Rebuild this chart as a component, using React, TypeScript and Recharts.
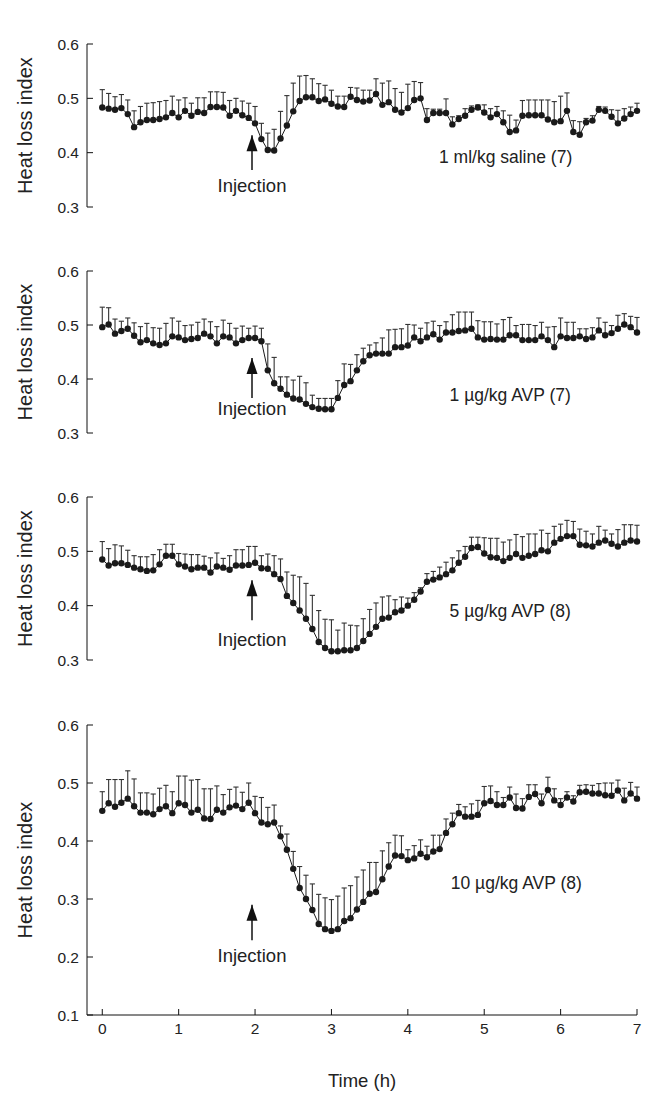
import {
  ComposedChart,
  Line,
  ErrorBar,
  XAxis,
  YAxis,
  ReferenceLine,
  ReferenceDot,
} from "recharts";

const FONT = '"Liberation Sans", Arial, Helvetica, sans-serif';

// heat loss index, mean and upper SEM, one value every 5 min from 0 to 7 h
const salineMean = [
  0.483, 0.481, 0.479, 0.482, 0.471, 0.447, 0.456, 0.46, 0.46, 0.462,
  0.465, 0.473, 0.465, 0.477, 0.468, 0.475, 0.473, 0.484, 0.484, 0.483,
  0.468, 0.477, 0.469, 0.464, 0.454, 0.425, 0.405, 0.404, 0.426, 0.45,
  0.476, 0.495, 0.502, 0.502, 0.495, 0.498, 0.49, 0.485, 0.484, 0.503,
  0.497, 0.494, 0.496, 0.508, 0.488, 0.493, 0.479, 0.474, 0.482, 0.497,
  0.5, 0.46, 0.473, 0.473, 0.473, 0.452, 0.462, 0.468, 0.479, 0.483,
  0.474, 0.465, 0.471, 0.456, 0.438, 0.441, 0.468, 0.469, 0.469, 0.469,
  0.461, 0.456, 0.458, 0.477, 0.438, 0.433, 0.456, 0.459, 0.479, 0.477,
  0.466, 0.454, 0.463, 0.471, 0.477,
];
const salineSem = [
  0.033, 0.028, 0.024, 0.025, 0.026, 0.03, 0.029, 0.031, 0.032, 0.032,
  0.031, 0.031, 0.032, 0.024, 0.023, 0.026, 0.028, 0.028, 0.028, 0.028,
  0.028, 0.023, 0.026, 0.027, 0.031, 0.029, 0.031, 0.039, 0.05, 0.055,
  0.052, 0.046, 0.04, 0.034, 0.032, 0.026, 0.025, 0.019, 0.02, 0.017,
  0.022, 0.021, 0.019, 0.028, 0.04, 0.039, 0.039, 0.037, 0.044, 0.034,
  0.029, 0.021, 0.007, 0.007, 0.026, 0.014, 0.006, 0.013, 0.007, 0.005,
  0.014, 0.016, 0.014, 0.021, 0.031, 0.019, 0.028, 0.028, 0.028, 0.028,
  0.036, 0.038, 0.046, 0.033, 0.021, 0.024, 0.007, 0.009, 0.006, 0.007,
  0.013, 0.024, 0.018, 0.013, 0.014,
];

const avp1Mean = [
  0.496, 0.501, 0.484, 0.489, 0.493, 0.48, 0.468, 0.472, 0.466, 0.463,
  0.466, 0.479, 0.477, 0.472, 0.474, 0.476, 0.484, 0.479, 0.466, 0.479,
  0.477, 0.466, 0.472, 0.476, 0.476, 0.47, 0.416, 0.392, 0.382, 0.371,
  0.364, 0.362, 0.354, 0.348, 0.345, 0.344, 0.344, 0.365, 0.389, 0.396,
  0.416, 0.433, 0.444, 0.447, 0.447, 0.447, 0.459, 0.459, 0.462, 0.477,
  0.47, 0.477, 0.483, 0.473, 0.486, 0.486, 0.489, 0.49, 0.493, 0.477,
  0.473, 0.474, 0.473, 0.473, 0.481, 0.481, 0.472, 0.472, 0.472, 0.479,
  0.472, 0.459, 0.479, 0.476, 0.476, 0.479, 0.474, 0.477, 0.49, 0.481,
  0.485, 0.493, 0.501, 0.496, 0.486,
];
const avp1Sem = [
  0.037, 0.031, 0.027, 0.018, 0.02, 0.024, 0.029, 0.031, 0.029, 0.031,
  0.037, 0.034, 0.03, 0.027, 0.026, 0.029, 0.027, 0.027, 0.031, 0.03,
  0.026, 0.028, 0.026, 0.018, 0.022, 0.024, 0.049, 0.048, 0.022, 0.033,
  0.034, 0.043, 0.039, 0.022, 0.019, 0.02, 0.02, 0.032, 0.039, 0.031,
  0.029, 0.024, 0.019, 0.02, 0.029, 0.044, 0.033, 0.034, 0.039, 0.023,
  0.024, 0.027, 0.024, 0.026, 0.02, 0.033, 0.035, 0.034, 0.031, 0.031,
  0.033, 0.032, 0.029, 0.037, 0.033, 0.018, 0.029, 0.029, 0.027, 0.026,
  0.024, 0.038, 0.034, 0.029, 0.029, 0.014, 0.019, 0.018, 0.023, 0.024,
  0.014, 0.025, 0.02, 0.02, 0.028,
];

const avp5Mean = [
  0.485, 0.474, 0.478, 0.478, 0.475, 0.47, 0.467, 0.464, 0.465, 0.476,
  0.492, 0.492, 0.476, 0.472, 0.467, 0.47, 0.47, 0.461, 0.472, 0.47,
  0.466, 0.474, 0.474, 0.475, 0.479, 0.469, 0.468, 0.458, 0.449, 0.418,
  0.405, 0.391, 0.376, 0.357, 0.333, 0.322, 0.316, 0.316, 0.318, 0.318,
  0.322, 0.335, 0.348, 0.361, 0.376, 0.378, 0.388, 0.391, 0.4, 0.411,
  0.426, 0.444, 0.448, 0.452, 0.458, 0.465, 0.479, 0.49, 0.506, 0.508,
  0.496, 0.489, 0.488, 0.482, 0.488, 0.495, 0.488, 0.492, 0.495, 0.502,
  0.5, 0.516, 0.523, 0.528, 0.528, 0.512, 0.511, 0.509, 0.516, 0.52,
  0.514, 0.509, 0.516, 0.52, 0.518,
];
const avp5Sem = [
  0.033, 0.031, 0.034, 0.032, 0.027, 0.022, 0.023, 0.026, 0.029, 0.027,
  0.021, 0.021, 0.02, 0.023, 0.027, 0.024, 0.021, 0.027, 0.025, 0.017,
  0.026, 0.029, 0.029, 0.034, 0.03, 0.023, 0.027, 0.034, 0.037, 0.044,
  0.051, 0.062, 0.065, 0.062, 0.058, 0.053, 0.058, 0.039, 0.05, 0.046,
  0.041, 0.041, 0.045, 0.044, 0.04, 0.04, 0.023, 0.025, 0.014, 0.013,
  0.007, 0.015, 0.015, 0.019, 0.022, 0.023, 0.022, 0.019, 0.02, 0.018,
  0.029, 0.035, 0.036, 0.035, 0.033, 0.036, 0.039, 0.04, 0.037, 0.037,
  0.033, 0.03, 0.027, 0.029, 0.027, 0.029, 0.026, 0.023, 0.03, 0.019,
  0.018, 0.031, 0.033, 0.029, 0.03,
];

const avp10Mean = [
  0.452, 0.465, 0.459, 0.466, 0.473, 0.46, 0.449, 0.449, 0.446, 0.455,
  0.46, 0.448, 0.465, 0.462, 0.449, 0.454, 0.439, 0.438, 0.454, 0.449,
  0.458, 0.461, 0.455, 0.466, 0.448, 0.432, 0.429, 0.432, 0.408, 0.385,
  0.352, 0.319, 0.3, 0.281, 0.257, 0.248, 0.245, 0.248, 0.262, 0.267,
  0.282, 0.295, 0.309, 0.312, 0.334, 0.356, 0.375, 0.374, 0.367, 0.37,
  0.378, 0.372, 0.382, 0.386, 0.414, 0.429, 0.448, 0.442, 0.442, 0.445,
  0.465, 0.469, 0.462, 0.462, 0.475, 0.457, 0.456, 0.476, 0.481, 0.465,
  0.488, 0.47, 0.462, 0.475, 0.468, 0.484, 0.485, 0.482, 0.482, 0.479,
  0.478, 0.487, 0.47, 0.482, 0.473,
];
const avp10Sem = [
  0.033, 0.041, 0.047, 0.04, 0.048, 0.047, 0.034, 0.034, 0.035, 0.036,
  0.036, 0.037, 0.047, 0.05, 0.056, 0.052, 0.051, 0.052, 0.041, 0.031,
  0.031, 0.032, 0.029, 0.034, 0.029, 0.043, 0.029, 0.03, 0.018, 0.027,
  0.03, 0.037, 0.041, 0.045, 0.051, 0.054, 0.054, 0.057, 0.057, 0.056,
  0.056, 0.055, 0.054, 0.051, 0.049, 0.041, 0.035, 0.035, 0.018, 0.022,
  0.024, 0.019, 0.028, 0.024, 0.024, 0.019, 0.015, 0.017, 0.022, 0.025,
  0.029, 0.026, 0.023, 0.013, 0.018, 0.024, 0.017, 0.021, 0.016, 0.016,
  0.022, 0.02, 0.011, 0.01, 0.01, 0.012, 0.012, 0.014, 0.017, 0.021,
  0.022, 0.018, 0.021, 0.019, 0.02,
];

const hourTicks = [0, 1, 2, 3, 4, 5, 6, 7];
const shortTicks = [0.3, 0.4, 0.5, 0.6];
const longTicks = [0.1, 0.2, 0.3, 0.4, 0.5, 0.6];
const INJECTION_AT = 1.96;

type PanelProps = {
  mean: number[];
  sem: number[];
  top: number;
  plotHeight: number;
  yTicks: number[];
  label: string;
  labelAt: [number, number];
  arrow: [number, number, number]; // tail, head, text
  showTime?: boolean;
};

function Panel({
  mean,
  sem,
  top,
  plotHeight,
  yTicks,
  label,
  labelAt,
  arrow,
  showTime,
}: PanelProps) {
  const data = mean.map((v, i) => ({ t: i / 12, v, e: [0, sem[i]] }));
  const mTop = 12;
  const mBottom = showTime ? 0 : 12;
  const xH = showTime ? 80 : 0;
  const height = mTop + plotHeight + mBottom + xH;

  return (
    <div style={{ position: "absolute", left: 0, top: top - mTop }}>
      <ComposedChart
        width={651}
        height={height}
        data={data}
        margin={{ top: mTop, right: 14, bottom: mBottom, left: 13 }}
      >
        <XAxis
          dataKey="t"
          type="number"
          domain={[-0.2, 7]}
          ticks={hourTicks}
          interval={0}
          hide={!showTime}
          height={xH}
          stroke="#111"
          tickSize={-6}
          tickMargin={14}
          tick={{ fill: "#222", fontSize: 15.5, fontFamily: FONT }}
          label={{
            value: "Time (h)",
            position: "insideBottom",
            offset: 8,
            style: { fill: "#222", fontSize: 18.5, fontFamily: FONT },
          }}
        />
        <YAxis
          type="number"
          domain={[yTicks[0], yTicks[yTicks.length - 1]]}
          ticks={yTicks}
          interval={0}
          width={74}
          stroke="#111"
          tickSize={-6}
          tickMargin={14}
          tickFormatter={(v: number) => v.toFixed(1)}
          tick={{ fill: "#222", fontSize: 15.5, fontFamily: FONT }}
          label={{
            value: "Heat loss index",
            angle: -90,
            position: "insideLeft",
            offset: 12,
            style: {
              textAnchor: "middle",
              fill: "#222",
              fontSize: 20,
              fontFamily: FONT,
            },
          }}
        />
        <Line
          dataKey="v"
          stroke="#1a1a1a"
          strokeWidth={1}
          dot={{ r: 3.2, fill: "#1a1a1a", stroke: "none" }}
          activeDot={false}
          isAnimationActive={false}
        >
          <ErrorBar
            dataKey="e"
            direction="y"
            width={2.6}
            stroke="#333"
            strokeWidth={1.1}
            isAnimationActive={false}
          />
        </Line>
        <ReferenceLine
          segment={[
            { x: INJECTION_AT, y: arrow[0] },
            { x: INJECTION_AT, y: arrow[1] },
          ]}
          stroke="#111"
          strokeWidth={1.5}
        />
        <ReferenceDot
          x={INJECTION_AT}
          y={arrow[1]}
          shape={(p: any) => (
            <polygon
              points={`${p.cx},${p.cy} ${p.cx - 5.5},${p.cy + 16} ${p.cx + 5.5},${p.cy + 16}`}
              fill="#111"
            />
          )}
        />
        <ReferenceDot
          x={INJECTION_AT}
          y={arrow[2]}
          shape={(p: any) => (
            <text
              x={p.cx}
              y={p.cy}
              textAnchor="middle"
              dominantBaseline="central"
              fontSize={18.5}
              fontFamily={FONT}
              fill="#222"
            >
              Injection
            </text>
          )}
        />
        <ReferenceDot
          x={labelAt[0]}
          y={labelAt[1]}
          shape={(p: any) => (
            <text
              x={p.cx}
              y={p.cy}
              textAnchor="middle"
              dominantBaseline="central"
              fontSize={17.5}
              fontFamily={FONT}
              fill="#222"
            >
              {label}
            </text>
          )}
        />
      </ComposedChart>
    </div>
  );
}

export default function App() {
  return (
    <div
      style={{
        position: "absolute",
        left: 0,
        top: 0,
        width: 651,
        height: 1106,
        background: "#fff",
      }}
    >
      <Panel
        mean={salineMean}
        sem={salineSem}
        top={44}
        plotHeight={163}
        yTicks={shortTicks}
        label="1 ml/kg saline (7)"
        labelAt={[5.28, 0.392]}
        arrow={[0.368, 0.432, 0.339]}
      />
      <Panel
        mean={avp1Mean}
        sem={avp1Sem}
        top={271}
        plotHeight={162}
        yTicks={shortTicks}
        label="1 µg/kg AVP (7)"
        labelAt={[5.34, 0.37]}
        arrow={[0.365, 0.439, 0.346]}
      />
      <Panel
        mean={avp5Mean}
        sem={avp5Sem}
        top={497}
        plotHeight={163}
        yTicks={shortTicks}
        label="5 µg/kg AVP (8)"
        labelAt={[5.34, 0.39]}
        arrow={[0.373, 0.447, 0.337]}
      />
      <Panel
        mean={avp10Mean}
        sem={avp10Sem}
        top={725}
        plotHeight={290}
        yTicks={longTicks}
        label="10 µg/kg AVP (8)"
        labelAt={[5.42, 0.328]}
        arrow={[0.229, 0.29, 0.203]}
        showTime
      />
    </div>
  );
}
